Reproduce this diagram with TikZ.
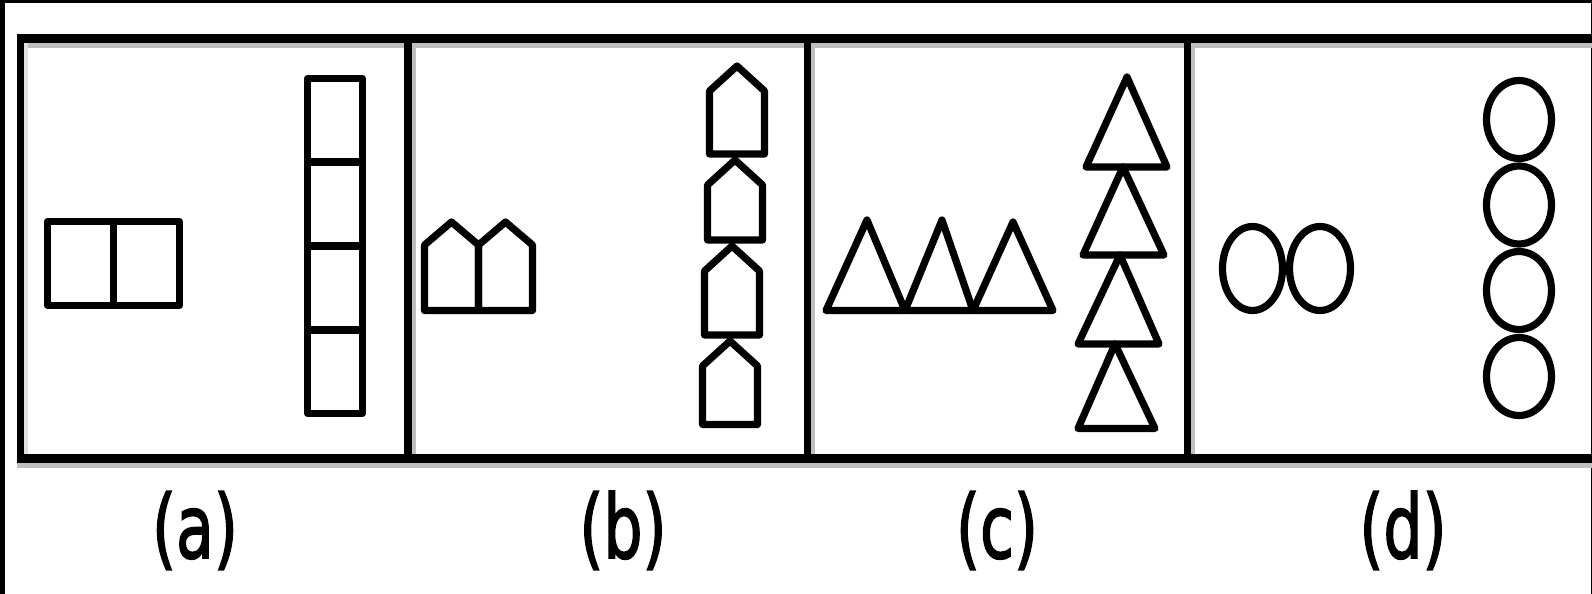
\documentclass[tikz,border=0pt]{standalone}
\usepackage{fontspec}
\setmainfont{DejaVu Sans}
\newfontfamily\labfont[FakeBold=2.2]{DejaVu Sans}
\begin{document}
\begin{tikzpicture}[x=0.5pt,y=-0.5pt,
  shp/.style={draw=black,line width=3.6pt,line join=round},
  fringe/.style={fill=black!25},
  lab/.style={font=\labfont\fontsize{44}{44}\selectfont, anchor=base, inner sep=0pt}]
\useasboundingbox (0,0) rectangle (1592,594);
\fill[white] (0,0) rectangle (1592,594);
% outer image frame
\fill[black] (0,0) rectangle (5,594);
\fill[black] (0,0) rectangle (1592,3);
\fill[black] (1591,0) rectangle (1592,594);
% grey fringes of the table lines
\fill[fringe] (24,43) rectangle (1592,48);
\fill[fringe] (17,463) rectangle (1592,468);
\fill[black!12] (24,43) rectangle (28,454);
\fill[fringe] (412,43) rectangle (416,454);
\fill[fringe] (811,43) rectangle (815,454);
\fill[fringe] (1191,43) rectangle (1195,454);
% table lines
\fill[black] (17,34) rectangle (1592,43);
\fill[black] (17,454) rectangle (1592,463);
\fill[black] (17,34) rectangle (24,463);
\fill[black] (404,34) rectangle (412,463);
\fill[black] (804,34) rectangle (811,463);
\fill[black] (1184,34) rectangle (1191,463);
% ---- panel (a): rectangles
\draw[shp] (47.5,221.5) rectangle (113.5,305.5);
\draw[shp] (113.5,221.5) rectangle (179.5,305.5);
\foreach \t/\b in {78.5/162,162/246,246/330,330/413.5}
  \draw[shp] (307.5,\t) rectangle (362.5,\b);
% ---- panel (b): houses
\foreach \l/\r in {424.5/478.5,478.5/532.5}
  \draw[shp] (\l,310.5) -- (\l,245) -- ({(\l+\r)/2},222) -- (\r,245) -- (\r,310.5) -- cycle;
\foreach \c/\p/\b in {737/66/154,735/160/240,732/246/335,730/341/424.5}
  \draw[shp] (\c-27.5,\b) -- (\c-27.5,\p+25) -- (\c,\p) -- (\c+27.5,\p+25) -- (\c+27.5,\b) -- cycle;
% ---- panel (c): triangles
\draw[shp] (826,310.5) -- (867,220) -- (905,310.5) -- cycle;
\draw[shp] (905,310.5) -- (942,220) -- (973,310.5) -- cycle;
\draw[shp] (973,310.5) -- (1013,222) -- (1053,310.5) -- cycle;
\draw[shp] (1086,167) -- (1127,77) -- (1167,167) -- cycle;
\draw[shp] (1083,255) -- (1123,167) -- (1164,255) -- cycle;
\draw[shp] (1078,344) -- (1120,255) -- (1159,344) -- cycle;
\draw[shp] (1078,428.5) -- (1115,344) -- (1155,428.5) -- cycle;
% ---- panel (d): ellipses
\draw[shp] (1252.5,268.5) ellipse [x radius=30pt/2, y radius=42pt/2];
\draw[shp] (1320,268.5) ellipse [x radius=30.5pt/2, y radius=42pt/2];
\foreach \cy in {119.5,205,290.5,376.5}
  \draw[shp] (1519,\cy) ellipse [x radius=32.5pt/2, y radius=39pt/2];
% ---- labels
\node[lab] (la) at (195,558) {\scalebox{0.7}[1]{(a)}};
\node[lab] (lb) at (623,558) {\scalebox{0.7}[1]{(b)}};
\node[lab] (lc) at (997,558) {\scalebox{0.7}[1]{(c)}};
\node[lab] (ld) at (1403,558) {\scalebox{0.7}[1]{(d)}};
\end{tikzpicture}
\end{document}
